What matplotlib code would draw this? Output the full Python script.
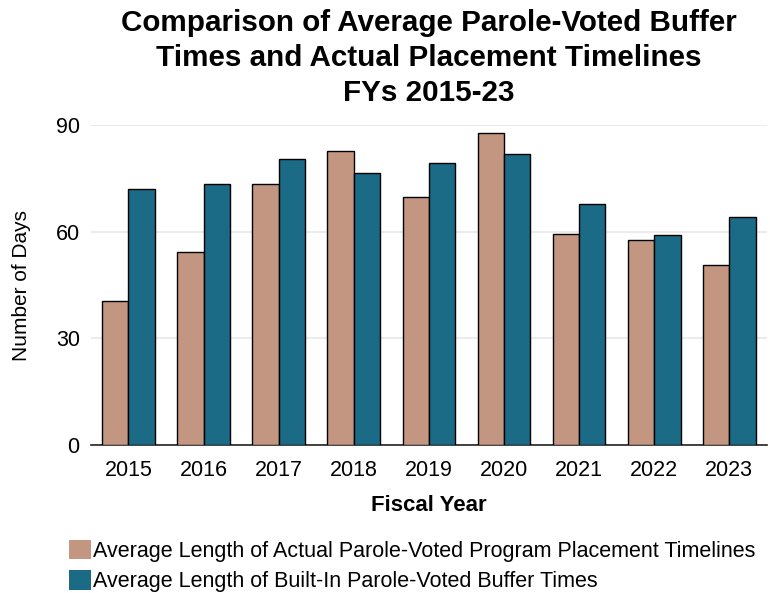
import numpy as np
import matplotlib.pyplot as plt
from matplotlib.patches import Patch

plt.rcParams['font.family'] = ['Liberation Sans', 'DejaVu Sans']

years = ['2015', '2016', '2017', '2018', '2019', '2020', '2021', '2022', '2023']
actual_placement = [40.4, 54.4, 73.4, 82.6, 69.8, 87.7, 59.5, 57.8, 50.7]
buffer_times = [71.9, 73.3, 80.6, 76.6, 79.3, 82.0, 67.7, 59.2, 64.1]
series_names = ['Average Length of Actual Parole-Voted Program Placement Timelines',
                'Average Length of Built-In Parole-Voted Buffer Times']

tan = '#C39681'
blue = '#1B6A86'

fig = plt.figure(figsize=(7.7, 5.93), dpi=100)
ax = fig.add_axes([0.118, 0.2496, 0.878, 0.5394])

x = np.arange(len(years))
w = 0.35
ax.bar(x - w / 2, actual_placement, w, color=tan, edgecolor='black', linewidth=1, zorder=3)
ax.bar(x + w / 2, buffer_times, w, color=blue, edgecolor='black', linewidth=1, zorder=3)

ax.set_xlim(-0.5, len(years) - 0.5)
ax.set_ylim(0, 90)
ax.set_yticks([0, 30, 60, 90])
ax.set_xticks(x)
ax.set_xticklabels(years)
ax.tick_params(axis='both', length=0, labelsize=15.5)
ax.tick_params(axis='x', pad=11)
ax.tick_params(axis='y', pad=8)
ax.yaxis.grid(True, color='#EBEBEB', linewidth=1.5, zorder=0)
for s in ['left', 'right', 'top']:
    ax.spines[s].set_visible(False)
ax.spines['bottom'].set_color('#222222')
ax.spines['bottom'].set_linewidth(1.2)

ax.set_ylabel('Number of Days', fontsize=15, labelpad=18)
ax.set_xlabel('Fiscal Year', fontsize=16, fontweight='bold', labelpad=10)
fig.suptitle('Comparison of Average Parole-Voted Buffer\nTimes and Actual Placement Timelines\nFYs 2015-23',
             fontsize=21.3, fontweight='bold', x=0.557, y=0.985, linespacing=1.32)

handles = [Patch(facecolor=tan), Patch(facecolor=blue)]
fig.legend(handles, series_names, loc='upper left', bbox_to_anchor=(0.09, 0.09),
           frameon=False, fontsize=15.5, handlelength=1.0, handleheight=1.0,
           handletextpad=0.1, labelspacing=0.4, borderaxespad=0, borderpad=0)

fig.savefig('out.png', dpi=100)
